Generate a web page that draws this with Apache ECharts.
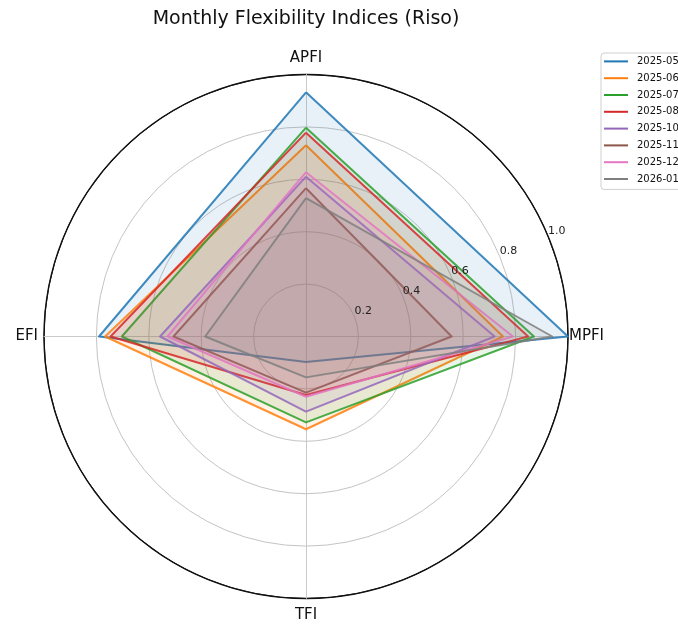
<!DOCTYPE html>
<html>
<head>
<meta charset="utf-8">
<script src="https://cdn.jsdelivr.net/npm/echarts@6/dist/echarts.min.js"></script>
<style>
  html, body { margin: 0; padding: 0; background: #fff; }
  #chart { width: 678px; height: 625px; }
</style>
</head>
<body>
<div id="chart"></div>
<script>
// Monthly flexibility indices for Riso, one polygon per month
const months = ['2025-05', '2025-06', '2025-07', '2025-08', '2025-10', '2025-11', '2025-12', '2026-01'];
const indicators = ['APFI', 'EFI', 'TFI', 'MPFI'];   // counter-clockwise from the top
const apfi = [0.932, 0.730, 0.797, 0.778, 0.610, 0.566, 0.627, 0.528];
const mpfi = [1.000, 0.752, 0.870, 0.848, 0.720, 0.556, 0.790, 0.940];
const tfi  = [0.097, 0.354, 0.328, 0.223, 0.287, 0.214, 0.230, 0.156];
const efi  = [0.790, 0.767, 0.703, 0.746, 0.557, 0.506, 0.529, 0.385];
const radialTicks = [0.2, 0.4, 0.6, 0.8, 1.0];
const palette = ['#1f77b4', '#ff7f0e', '#2ca02c', '#d62728', '#9467bd', '#8c564b', '#e377c2', '#7f7f7f'];

const FONT = 'DejaVu Sans';
const CENTER = [306, 336.5];
const RADIUS = 262;

const valuesByIndicator = { APFI: apfi, EFI: efi, TFI: tfi, MPFI: mpfi };

const series = months.map((m, i) => ({
  type: 'radar',
  name: m,
  symbol: 'none',
  z: 3,
  lineStyle: { color: palette[i], width: 2, opacity: 0.85 },
  areaStyle: { color: palette[i], opacity: 0.1 },
  itemStyle: { color: palette[i] },
  data: [{ name: m, value: indicators.map(k => valuesByIndicator[k][i]) }]
}));

const chart = echarts.init(document.getElementById('chart'), null, { renderer: 'canvas' });
chart.setOption({
  animation: false,
  backgroundColor: '#fff',
  color: palette,
  textStyle: { fontFamily: FONT },
  title: {
    text: 'Monthly Flexibility Indices (Riso)',
    left: 306,
    textAlign: 'center',
    top: 10,
    padding: 0,
    textStyle: { fontFamily: FONT, fontSize: 19, fontWeight: 'normal', color: '#111' }
  },
  legend: {
    orient: 'vertical',
    left: 601,
    top: 53,
    padding: [0, 40, 2, 3],
    itemGap: 0,
    itemWidth: 24,
    itemHeight: 2,
    icon: 'rect',
    borderColor: '#cfcfcf',
    borderWidth: 1,
    borderRadius: 3,
    backgroundColor: '#fff',
    data: months,
    textStyle: { fontFamily: FONT, fontSize: 10, color: '#111', lineHeight: 16.8, padding: [0, 0, 0, 4] }
  },
  radar: {
    center: CENTER,
    radius: RADIUS,
    shape: 'circle',
    splitNumber: 5,
    nameGap: 1,
    indicator: indicators.map(n => ({ name: n, min: 0, max: 1 })),
    axisName: {
      fontFamily: FONT,
      fontSize: 15,
      color: '#111',
      formatter: n => `{${n}|${n}}`,
      rich: {
        APFI: { fontFamily: FONT, fontSize: 15, color: '#111', padding: [0, 0, 8, 0] },
        EFI:  { fontFamily: FONT, fontSize: 15, color: '#111', padding: [0, 5, 0, 0] },
        TFI:  { fontFamily: FONT, fontSize: 15, color: '#111', padding: [8, 0, 0, 0] },
        MPFI: { fontFamily: FONT, fontSize: 15, color: '#111' }
      }
    },
    axisLine: { lineStyle: { color: '#c4c4c4', width: 0.9 } },
    splitLine: {
      lineStyle: { color: ['#c4c4c4', '#c4c4c4', '#c4c4c4', '#c4c4c4', '#c4c4c4', '#111'], width: 1 }
    },
    splitArea: { show: false }
  },
  // outer frame circle and radial tick labels along the 22.5° ray
  polar: { center: CENTER, radius: RADIUS },
  angleAxis: {
    type: 'value', min: 0, max: 360, startAngle: 22.5,
    axisLine: { show: true, lineStyle: { color: '#111', width: 1.4 } },
    axisTick: { show: false },
    axisLabel: { show: false }, splitLine: { show: false }
  },
  radiusAxis: {
    type: 'value', min: 0, max: 1, interval: 0.2,
    axisLine: { show: false }, axisTick: { show: false }, splitLine: { show: false },
    axisLabel: {
      showMinLabel: false,
      margin: 0,
      align: 'left',
      verticalAlign: 'bottom',
      fontFamily: FONT,
      fontSize: 11,
      color: '#222',
      formatter: v => (radialTicks.some(t => Math.abs(t - v) < 1e-9) ? v.toFixed(1) : '')
    },
    z: 5
  },
  series: series
});
</script>
</body>
</html>
